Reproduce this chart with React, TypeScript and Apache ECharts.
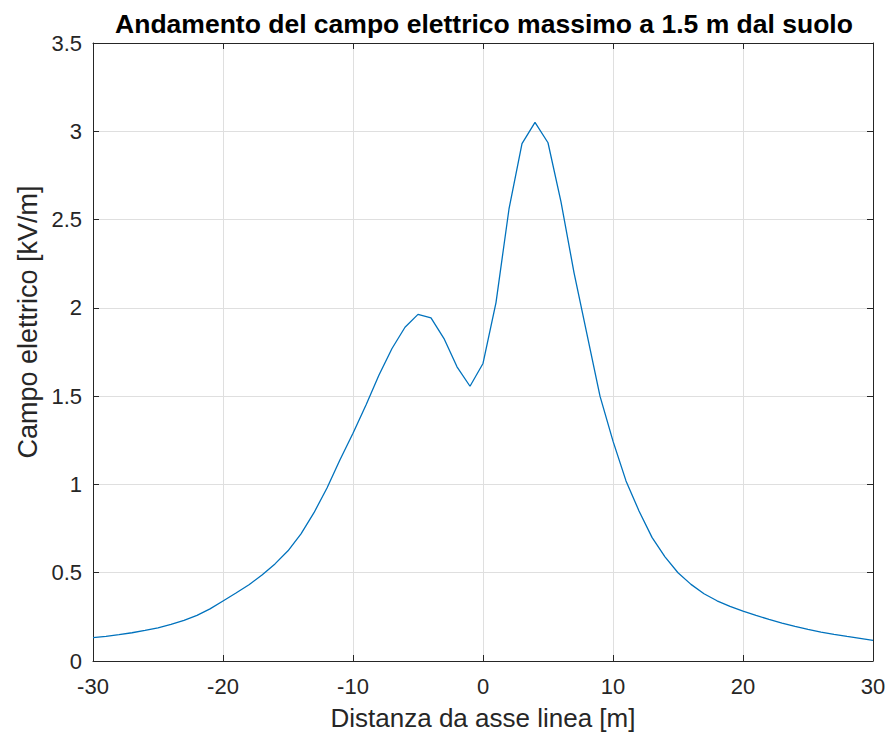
import React, { useEffect, useRef } from "react";
import * as echarts from "echarts";

const xValues: number[] = [
  -30, -29, -28, -27, -26, -25, -24, -23, -22, -21, -20, -19, -18, -17, -16, -15,
  -14, -13, -12, -11, -10, -9, -8, -7, -6, -5, -4, -3, -2, -1, 0, 1, 2, 3, 4, 5,
  6, 7, 8, 9, 10, 11, 12, 13, 14, 15, 16, 17, 18, 19, 20, 21, 22, 23, 24, 25, 26,
  27, 28, 29, 30,
];

const fieldValues: number[] = [
  0.132, 0.14, 0.149, 0.16, 0.173, 0.188, 0.207, 0.23, 0.258, 0.295, 0.34,
  0.385, 0.432, 0.487, 0.55, 0.624, 0.72, 0.84, 0.98, 1.14, 1.29, 1.45, 1.62,
  1.77, 1.89, 1.963, 1.943, 1.826, 1.666, 1.556, 1.685, 2.03, 2.56, 2.93, 3.05,
  2.935, 2.6, 2.2, 1.85, 1.5, 1.245, 1.02, 0.85, 0.7, 0.59, 0.5, 0.434, 0.381,
  0.341, 0.309, 0.282, 0.258, 0.236, 0.215, 0.196, 0.179, 0.164, 0.151, 0.139,
  0.128, 0.117,
];

const titleText = "Andamento del campo elettrico massimo a 1.5 m dal suolo";
const xLabel = "Distanza da asse linea [m]";
const yLabel = "Campo elettrico [kV/m]";

const FONT = "Liberation Sans, Arial, Helvetica, sans-serif";
const AXIS_COLOR = "#262626";
const GRID_COLOR = "#dfdfdf";

export default function App() {
  const ref = useRef<HTMLDivElement>(null);

  useEffect(() => {
    if (!ref.current) return;
    const chart = echarts.init(ref.current, undefined, { renderer: "svg" });
    const data = xValues.map((x, i) => [x, fieldValues[i]]);
    const tickStyle = { show: true, inside: true, length: 6, lineStyle: { color: AXIS_COLOR, width: 1 } };
    chart.setOption({
      animation: false,
      backgroundColor: "#ffffff",
      title: {
        text: titleText,
        left: 479,
        textAlign: "center",
        top: 5,
        textStyle: { fontFamily: FONT, fontSize: 26.5, fontWeight: "bold", color: "#000000" },
      },
      graphic: [
        {
          type: "text",
          x: 28,
          y: 322,
          rotation: Math.PI / 2,
          style: {
            text: yLabel,
            fontFamily: FONT,
            fontSize: 27,
            fill: AXIS_COLOR,
            textAlign: "center",
            textVerticalAlign: "middle",
          },
        },
      ],
      grid: { left: 93, right: 17, top: 43, bottom: 77, containLabel: false },
      xAxis: [
        {
          type: "value",
          min: -30,
          max: 30,
          interval: 10,
          position: "bottom",
          name: xLabel,
          nameLocation: "middle",
          nameGap: 44,
          nameTextStyle: { fontFamily: FONT, fontSize: 26, color: AXIS_COLOR },
          axisLine: { show: true, onZero: false, lineStyle: { color: AXIS_COLOR, width: 1 } },
          axisTick: tickStyle,
          axisLabel: { fontFamily: FONT, fontSize: 22, color: AXIS_COLOR, margin: 14 },
          splitLine: { show: true, lineStyle: { color: GRID_COLOR, width: 1 } },
        },
        {
          type: "value",
          min: -30,
          max: 30,
          interval: 10,
          position: "top",
          axisLine: { show: true, onZero: false, lineStyle: { color: AXIS_COLOR, width: 1 } },
          axisTick: tickStyle,
          axisLabel: { show: false },
          splitLine: { show: false },
        },
      ],
      yAxis: [
        {
          type: "value",
          min: 0,
          max: 3.5,
          interval: 0.5,
          position: "left",
          axisLine: { show: true, onZero: false, lineStyle: { color: AXIS_COLOR, width: 1 } },
          axisTick: tickStyle,
          axisLabel: { fontFamily: FONT, fontSize: 22, color: AXIS_COLOR, margin: 11 },
          splitLine: { show: true, lineStyle: { color: GRID_COLOR, width: 1 } },
        },
        {
          type: "value",
          min: 0,
          max: 3.5,
          interval: 0.5,
          position: "right",
          axisLine: { show: true, onZero: false, lineStyle: { color: AXIS_COLOR, width: 1 } },
          axisTick: tickStyle,
          axisLabel: { show: false },
          splitLine: { show: false },
        },
      ],
      series: [
        {
          type: "line",
          data,
          xAxisIndex: 0,
          yAxisIndex: 0,
          showSymbol: false,
          symbol: "none",
          lineStyle: { color: "#0072BD", width: 1.3 },
          smooth: false,
        },
      ],
    });
    return () => chart.dispose();
  }, []);

  return <div ref={ref} style={{ width: 890, height: 738, position: "absolute", left: 0, top: 0 }} />;
}
